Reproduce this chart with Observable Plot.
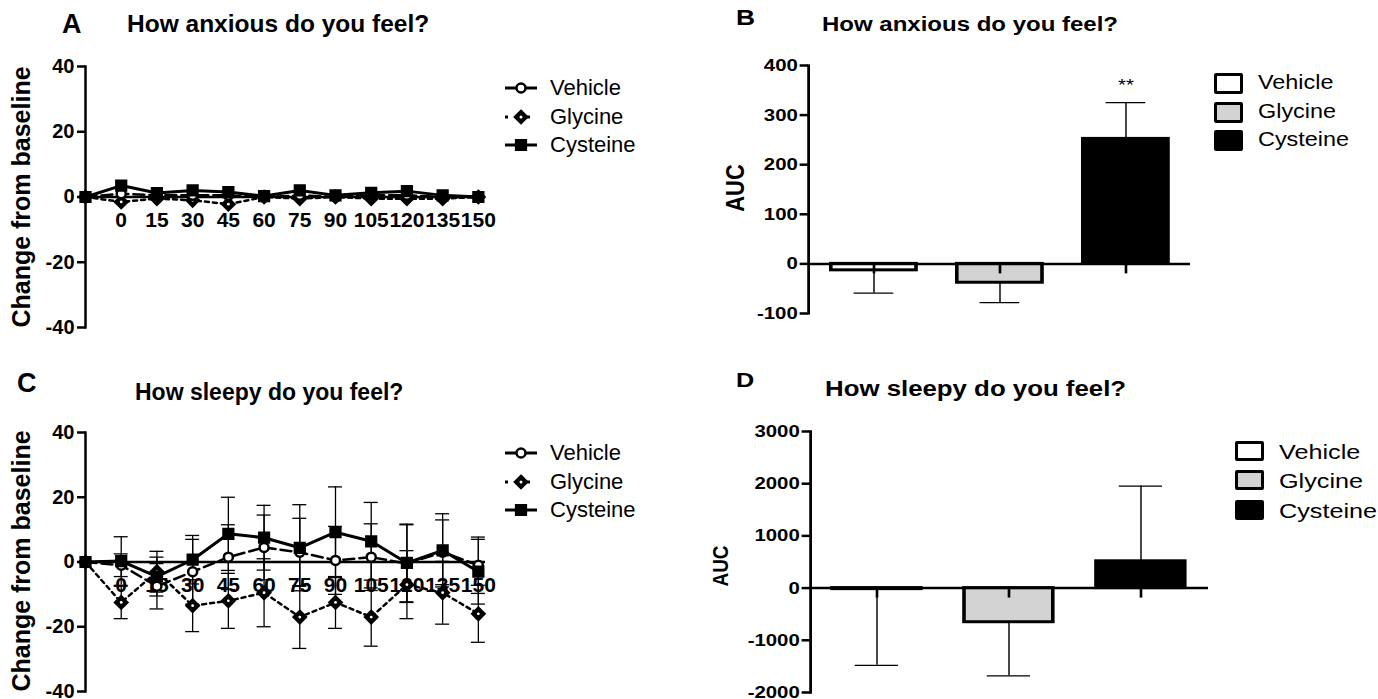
<!DOCTYPE html>
<html><head><meta charset="utf-8">
<script src="https://cdn.jsdelivr.net/npm/d3@7"></script>
<script src="https://cdn.jsdelivr.net/npm/@observablehq/plot@0.6"></script>
<style>
body{margin:0;background:#fff;font-family:"Liberation Sans",Arial,sans-serif;color:#000;}
#root{position:relative;width:1378px;height:699px;overflow:hidden;background:#fff;}
svg{overflow:visible;}
</style></head><body><div id="root"></div>
<script>
// ---------- DATA ----------
const groups = ["Vehicle", "Glycine", "Cysteine"];
const times = [-15, 0, 15, 30, 45, 60, 75, 90, 105, 120, 135, 150];
const xTickLabels = [0, 15, 30, 45, 60, 75, 90, 105, 120, 135, 150];
const yTicksLine = [-40, -20, 0, 20, 40];
const yTicksAnx = [-100, 0, 100, 200, 300, 400];
const yTicksSlp = [-2000, -1000, 0, 1000, 2000, 3000];

// A: How anxious do you feel? (change from baseline)
const anxVehicle  = [0, 1, 0.5, 0.5, 0.5, 0, 0.5, 0, 0.5, 0.5, 0, 0];
const anxGlycine  = [0, -1.5, -0.5, -1, -2.2, 0, -0.5, 0, -0.5, -0.5, -0.5, 0];
const anxCysteine = [0, 3.5, 1.2, 2, 1.5, 0.3, 2, 0.5, 1.3, 1.8, 0.5, 0];

// C: How sleepy do you feel? (change from baseline) with SEM
const slpVehicle     = [0, -1, -7.5, -3, 1.5, 4.5, 3, 0.5, 1.5, -0.5, 3, -1];
const slpVehicleSem  = [0, 3.5, 7, 10, 10, 10, 10.5, 10.5, 10.3, 12, 10, 8.7];
const slpGlycine     = [0, -12.5, -3, -13.5, -12, -9.5, -17, -12.5, -17, -7, -9.5, -16];
const slpGlycineSem  = [0, 5, 6.3, 8, 8.5, 10.5, 9.7, 8, 9, 10.5, 9.7, 8.8];
const slpCysteine    = [0, 0.3, -4.5, 0.7, 8.7, 7.5, 4.4, 9.2, 6.4, -0.3, 3.6, -3];
const slpCysteineSem = [0, 7.5, 6, 7.5, 11.3, 10, 13.3, 14, 12, 12, 11.3, 10];

// B: AUC anxious
const aucAnx    = [-13, -38, 252];
const aucAnxSem = [46, 40, 73];
const aucAnxSig = ["", "", "**"];
// D: AUC sleepy
const aucSlp    = [-20, -654, 513];
const aucSlpSem = [1460, 1026, 1442];
const aucSlpSig = ["", "", ""];

const barFills = ["#ffffff", "#d3d3d3", "#000000"];

// ---------- HELPERS ----------
const root = document.getElementById("root");
const FONT = '"Liberation Sans", Arial, sans-serif';
const K = 1.2; // horizontal stretch of the right-hand panels (as in the reference)
const fmt = d => String(d);
function place(node, x, y) {
  node.style.position = "absolute"; node.style.left = x + "px"; node.style.top = y + "px";
  root.appendChild(node);
}
function label(text, x, yc, css, stretch = 1) {
  const d = document.createElement("div");
  d.textContent = text;
  Object.assign(d.style, {position: "absolute", left: x + "px", top: yc + "px",
    transform: `translateY(-50%) scaleX(${stretch})`, transformOrigin: "left center",
    whiteSpace: "nowrap", lineHeight: "1"}, css);
  root.appendChild(d);
}
function vlabel(text, xc, yc, css, stretch = 1) {
  const d = document.createElement("div");
  d.textContent = text;
  Object.assign(d.style, {position: "absolute", left: xc + "px", top: yc + "px",
    transform: `translate(-50%,-50%) scaleX(${stretch}) rotate(-90deg)`, whiteSpace: "nowrap", lineHeight: "1",
    fontWeight: "bold"}, css);
  root.appendChild(d);
}
const seriesStyle = {
  Vehicle:  {dash: "11,5", width: 2.5, symbol: "circle", r: 4.5, fill: "white", eye: false},
  Glycine:  {dash: "4,4",  width: 2.5, symbol: "diamond2", r: 5.5, fill: "black", eye: true},
  Cysteine: {dash: null,   width: 3,   symbol: "square", r: 5.5, fill: "black", eye: false}
};

function rowsFor(values, sems) {
  return times.map((t, i) => ({t, v: values[i], sem: sems ? sems[i] : 0}));
}

function linePanel({series, left, top, height, marginTop, marginBottom, errorBars}) {
  const marks = [
    Plot.frame({anchor: "left", strokeWidth: 2.5}),
    Plot.axisY({ticks: yTicksLine, tickFormat: fmt, tickSize: 8, tickPadding: 3, strokeWidth: 2.5, label: null}),
    Plot.ruleY([0], {strokeWidth: 2.5})
  ];
  if (errorBars) {
    for (const [name, rows] of series) {
      const eb = rows.filter(d => d.sem > 0);
      marks.push(
        Plot.ruleX(eb, {x: "t", y1: d => d.v - d.sem, y2: d => d.v + d.sem, strokeWidth: 1.3}),
        Plot.ruleY(eb, {x1: "t", x2: "t", y: d => d.v + d.sem, insetLeft: -7, insetRight: -7, strokeWidth: 1.3}),
        Plot.ruleY(eb, {x1: "t", x2: "t", y: d => d.v - d.sem, insetLeft: -7, insetRight: -7, strokeWidth: 1.3})
      );
    }
  }
  marks.push(Plot.text(xTickLabels, {x: d => d, y: () => 0, dy: 23, text: d => String(d), fontSize: 21}));
  for (const [name, rows] of series) {
    const s = seriesStyle[name];
    const o = {x: "t", y: "v", stroke: "black", strokeWidth: s.width};
    if (s.dash) o.strokeDasharray = s.dash;
    marks.push(Plot.line(rows, o));
  }
  for (const [name, rows] of series) {
    const s = seriesStyle[name];
    marks.push(Plot.dot(rows, {x: "t", y: "v", symbol: s.symbol, r: s.r, fill: s.fill,
      stroke: "black", strokeWidth: 2.5}));
    if (s.eye) marks.push(Plot.dot(rows, {x: "t", y: "v", r: 1.4, fill: "white"}));
  }
  const svg = Plot.plot({
    width: 500, height, marginLeft: 85, marginRight: 15, marginTop, marginBottom,
    x: {domain: [-15, 153], axis: null},
    y: {domain: [-40, 40], axis: null},
    style: {fontFamily: FONT, fontSize: "20px", fontWeight: "bold", background: "transparent", overflow: "visible"},
    marks
  });
  place(svg, left, top);
}

// page-pixel geometry is divided by K, and the svg is stretched back by K
function barPanel({values, sems, sig, yTicks, yDomain, left, top, axisX, axisEnd, height,
                   marginTop, marginBottom, paddingInner, paddingOuter, capHalf, fontSize}) {
  const rows = groups.map((g, i) => ({g, v: values[i], sem: sems[i], sig: sig[i],
    end: values[i] + Math.sign(values[i]) * sems[i]}));
  const marginLeft = (axisX - left) / K;
  const marginRight = 14;
  const rangeW = (axisEnd - axisX) / K;
  const width = marginLeft + rangeW + marginRight;
  const step = rangeW / (groups.length - paddingInner + 2 * paddingOuter);
  const bw = step * (1 - paddingInner);
  const capInset = bw / 2 - capHalf / K;
  const svg = Plot.plot({
    width, height, marginLeft, marginRight, marginTop, marginBottom,
    x: {domain: groups, paddingInner, paddingOuter, axis: null},
    y: {domain: yDomain, axis: null},
    color: {domain: groups, range: barFills},
    style: {fontFamily: FONT, fontSize: fontSize + "px", fontWeight: "bold", background: "transparent", overflow: "visible"},
    marks: [
      Plot.ruleX(rows, {x: "g", y1: "v", y2: "end", strokeWidth: 1.2}),
      Plot.tickY(rows, {x: "g", y: "end", insetLeft: capInset, insetRight: capInset, strokeWidth: 1.3}),
      Plot.barY(rows, {x: "g", y: "v", fill: "g", stroke: "black", strokeWidth: 3}),
      Plot.frame({anchor: "left", strokeWidth: 2.3}),
      Plot.axisY({ticks: yTicks, tickFormat: fmt, tickSize: 7, tickPadding: 2, strokeWidth: 2.5, label: null}),
      Plot.ruleY([0], {strokeWidth: 2.5}),
      Plot.ruleX(rows, {x: "g", y1: () => 0, y2: () => 0, insetBottom: -10, strokeWidth: 2.2}),
      Plot.text(rows, {x: "g", y: "end", text: "sig", dy: -17, fontSize: 17, fontWeight: "normal"})
    ]
  });
  svg.style.transform = `scaleX(${K})`;
  svg.style.transformOrigin = "0 0";
  place(svg, left, top);
}

function lineLegend(x, rowsY) {
  groups.forEach((g, i) => {
    const s = seriesStyle[g];
    const ns = "http://www.w3.org/2000/svg";
    const svg = document.createElementNS(ns, "svg");
    svg.setAttribute("width", 36); svg.setAttribute("height", 20);
    const line = document.createElementNS(ns, "line");
    line.setAttribute("x1", 2); line.setAttribute("x2", 34); line.setAttribute("y1", 10); line.setAttribute("y2", 10);
    line.setAttribute("stroke", "black"); line.setAttribute("stroke-width", 3);
    if (g === "Glycine") line.setAttribute("stroke-dasharray", "3,8");
    svg.appendChild(line);
    const sym = d3.symbol().type({circle: d3.symbolCircle, diamond2: d3.symbolDiamond2, square: d3.symbolSquare}[s.symbol])
      .size(Math.PI * s.r * s.r);
    const p = document.createElementNS(ns, "path");
    p.setAttribute("d", sym()); p.setAttribute("transform", "translate(18,10)");
    p.setAttribute("fill", s.fill); p.setAttribute("stroke", "black"); p.setAttribute("stroke-width", 2.5);
    svg.appendChild(p);
    if (s.eye) {
      const c = document.createElementNS(ns, "circle");
      c.setAttribute("cx", 18); c.setAttribute("cy", 10); c.setAttribute("r", 1.5); c.setAttribute("fill", "white");
      svg.appendChild(c);
    }
    svg.style.position = "absolute"; svg.style.left = x + "px"; svg.style.top = (rowsY[i] - 10) + "px";
    root.appendChild(svg);
    label(g, x + 47, rowsY[i], {fontSize: "22px"});
  });
}
function boxLegend(x, rowsY, w, h, fontSize, textX) {
  groups.forEach((g, i) => {
    const d = document.createElement("div");
    Object.assign(d.style, {position: "absolute", left: x + "px", top: (rowsY[i] - h / 2) + "px",
      width: (w - 6) + "px", height: (h - 6) + "px", border: "3px solid black", borderRadius: "2px",
      background: barFills[i]});
    root.appendChild(d);
    label(g, textX, rowsY[i], {fontSize: fontSize + "px"}, K);
  });
}

// ---------- PANELS ----------
label("A", 62, 24, {fontSize: "27px", fontWeight: "bold"});
label("How anxious do you feel?", 127, 24, {fontSize: "24.5px", fontWeight: "bold"});
label("B", 736, 18, {fontSize: "22px", fontWeight: "bold"}, K);
label("How anxious do you feel?", 822, 24, {fontSize: "20px", fontWeight: "bold"}, K);
label("C", 17, 383, {fontSize: "27px", fontWeight: "bold"});
label("How sleepy do you feel?", 135, 392, {fontSize: "23px", fontWeight: "bold"});
label("D", 736, 379, {fontSize: "21px", fontWeight: "bold"}, K);
label("How sleepy do you feel?", 825, 390, {fontSize: "21.5px", fontWeight: "bold"}, K);

vlabel("Change from baseline", 21, 197, {fontSize: "25px"});
vlabel("Change from baseline", 21, 561, {fontSize: "25px"});
vlabel("AUC", 736, 188, {fontSize: "22px"}, K);
vlabel("AUC", 720, 566, {fontSize: "19px"}, K);

linePanel({
  series: [["Glycine", rowsFor(anxGlycine)], ["Vehicle", rowsFor(anxVehicle)], ["Cysteine", rowsFor(anxCysteine)]],
  left: 0, top: 40, height: 300, marginTop: 26, marginBottom: 13, errorBars: false
});
linePanel({
  series: [["Glycine", rowsFor(slpGlycine, slpGlycineSem)], ["Vehicle", rowsFor(slpVehicle, slpVehicleSem)],
           ["Cysteine", rowsFor(slpCysteine, slpCysteineSem)]],
  left: 0, top: 404, height: 295, marginTop: 28, marginBottom: 8, errorBars: true
});
lineLegend(503, [88, 117, 145]);
lineLegend(503, [453, 482, 510]);

barPanel({values: aucAnx, sems: aucAnxSem, sig: aucAnxSig, yTicks: yTicksAnx, yDomain: [-100, 400],
  left: 700, top: 40, axisX: 808, axisEnd: 1190, height: 290, marginTop: 25, marginBottom: 17,
  paddingInner: 0.324, paddingOuter: 0.172, capHalf: 20, fontSize: 17});
barPanel({values: aucSlp, sems: aucSlpSem, sig: aucSlpSig, yTicks: yTicksSlp, yDomain: [-2000, 3000],
  left: 700, top: 400, axisX: 810, axisEnd: 1208, height: 300, marginTop: 31, marginBottom: 8,
  paddingInner: 0.327, paddingOuter: 0.16, capHalf: 22, fontSize: 17});
boxLegend(1214, [83, 112, 140], 29, 21, 19.5, 1258);
boxLegend(1235, [451, 480, 510], 29, 20, 21, 1279);
</script></body></html>
